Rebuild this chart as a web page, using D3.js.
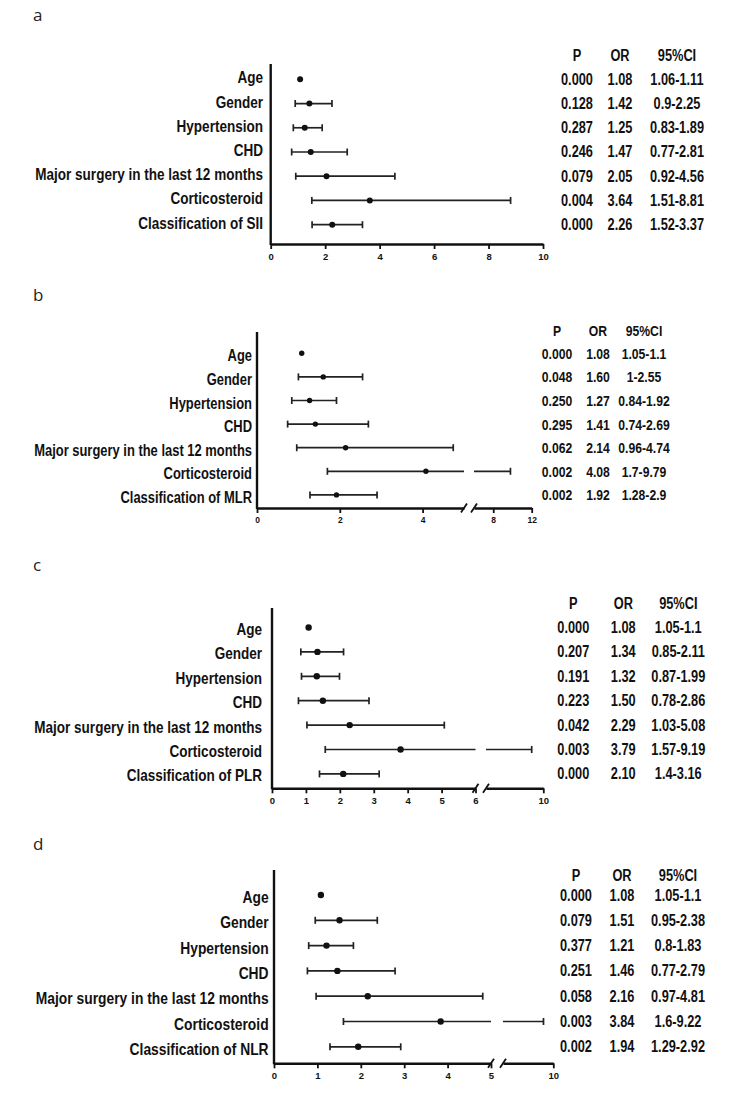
<!DOCTYPE html>
<html><head><meta charset="utf-8">
<script src="https://cdn.jsdelivr.net/npm/d3@7"></script>
<style>
body{margin:0;background:#fff;}
</style></head><body>
<svg id="c" width="744" height="1113"></svg>
<script>
// ---------- data ----------
const baseCategories = ["Age","Gender","Hypertension","CHD","Major surgery in the last 12 months","Corticosteroid"];
const indexNames = ["SII","MLR","PLR","NLR"];
const panelLetters = ["a","b","c","d"];
const tableHeaders = ["P","OR","95%CI"];

const pA  = ["0.000","0.128","0.287","0.246","0.079","0.004","0.000"];
const orA = [1.08,1.42,1.25,1.47,2.05,3.64,2.26];
const loA = [1.06,0.9,0.83,0.77,0.92,1.51,1.52];
const hiA = [1.11,2.25,1.89,2.81,4.56,8.81,3.37];

const pB  = ["0.000","0.048","0.250","0.295","0.062","0.002","0.002"];
const orB = [1.08,1.60,1.27,1.41,2.14,4.08,1.92];
const loB = [1.05,1,0.84,0.74,0.96,1.7,1.28];
const hiB = [1.1,2.55,1.92,2.69,4.74,9.79,2.9];

const pC  = ["0.000","0.207","0.191","0.223","0.042","0.003","0.000"];
const orC = [1.08,1.34,1.32,1.50,2.29,3.79,2.10];
const loC = [1.05,0.85,0.87,0.78,1.03,1.57,1.4];
const hiC = [1.1,2.11,1.99,2.86,5.08,9.19,3.16];

const pD  = ["0.000","0.079","0.377","0.251","0.058","0.003","0.002"];
const orD = [1.08,1.51,1.21,1.46,2.16,3.84,1.94];
const loD = [1.05,0.95,0.8,0.77,0.97,1.6,1.29];
const hiD = [1.1,2.38,1.83,2.79,4.81,9.22,2.92];

const domainsA = [[0,10]];
const domainsB = [[0,5],[6,12]];
const domainsC = [[0,6],[6,10]];
const domainsD = [[0,5],[6,10]];
const ticksA = [[0,2,4,6,8,10]];
const ticksB = [[0,2,4],[8,12]];
const ticksC = [[0,1,2,3,4,5,6],[10]];
const ticksD = [[0,1,2,3,4,5],[10]];

// ---------- layout ----------
const FONT = '"Liberation Sans",Arial,sans-serif';
const SQUEEZE = 0.8;   // condensed look (Arial Narrow style)
const layouts = [
  {letterY:21, headerY:55, row0:79.3, rowStep:24.23, axisTop:64, axisY:244, ranges:[[270.7,543]],
   labelRight:263, labelWidth:228, labelDy:-1.5, cols:[577,620,677], pWidth:32, dotR:3, tickFs:9.5},
  {letterY:301, headerY:330, row0:353.3, rowStep:23.6, axisTop:332, axisY:508, ranges:[[257,464],[474,531.7]],
   labelRight:252, labelWidth:218, labelDy:2, cols:[557,598,644], pWidth:30.5, dotR:2.7, tickFs:8.5},
  {letterY:571, headerY:603, row0:627.5, rowStep:24.4, axisTop:608, axisY:788.3, ranges:[[272,475.5],[486,543.3]],
   labelRight:262, labelWidth:228, labelDy:2, cols:[573.3,623.3,678.3], pWidth:32, dotR:3.2, tickFs:9.5},
  {letterY:850, headerY:875, row0:895, rowStep:25.3, axisTop:870, axisY:1063.3, ranges:[[274,491],[503,553.3]],
   labelRight:268.6, labelWidth:233, labelDy:2, cols:[576,622,678], pWidth:32, dotR:3.2, tickFs:9.5}
];

const panels = [
  {p:pA, or:orA, lo:loA, hi:hiA, domains:domainsA, ticks:ticksA},
  {p:pB, or:orB, lo:loB, hi:hiB, domains:domainsB, ticks:ticksB},
  {p:pC, or:orC, lo:loC, hi:hiC, domains:domainsC, ticks:ticksC},
  {p:pD, or:orD, lo:loD, hi:hiD, domains:domainsD, ticks:ticksD}
];

const svg = d3.select("#c");
const INK = "#111";

function natWidth(g, str, fs){
  const t = g.append("text").style("font-family",FONT).style("font-weight","bold").style("font-size",fs+"px").text(str);
  const w = t.node().getComputedTextLength(); t.remove();
  return w;
}
function squeeze(sel){
  sel.each(function(){
    const w = this.getComputedTextLength();
    d3.select(this).attr("textLength", w*SQUEEZE).attr("lengthAdjust","spacingAndGlyphs");
  });
}

panels.forEach((P,pi) => {
  const L = layouts[pi];
  const cats = baseCategories.concat(["Classification of " + indexNames[pi]]);
  const g = svg.append("g");
  const y = d3.scalePoint().domain(cats).range([L.row0, L.row0 + L.rowStep*(cats.length-1)]);
  const xs = P.domains.map((d,i) => d3.scaleLinear().domain(d).range(L.ranges[i]));
  const X = v => { for(let i=0;i<xs.length;i++){ const d=P.domains[i]; if(v<=d[1] || i===xs.length-1) return xs[i](v);} };

  // panel letter
  g.append("text").attr("x",33).attr("y",L.letterY).text(panelLetters[pi])
    .style("font-family",'"Open Sans","Liberation Sans",sans-serif').style("font-size","17px").attr("fill","#222");

  // row labels
  const labFs = 16 * L.labelWidth / (natWidth(g, cats[4], 16) * SQUEEZE);
  const labs = g.selectAll("text.lab").data(cats).join("text").attr("class","lab")
    .attr("x",L.labelRight).attr("y",d=>y(d)+L.labelDy)
    .attr("text-anchor","end").attr("dominant-baseline","central")
    .style("font-family",FONT).style("font-weight","bold").style("font-size",labFs+"px").attr("fill",INK)
    .text(d=>d);
  squeeze(labs);

  // y axis line
  const x0 = L.ranges[0][0];
  g.append("line").attr("x1",x0).attr("x2",x0).attr("y1",L.axisTop).attr("y2",L.axisY+1)
    .attr("stroke",INK).attr("stroke-width",2.4);

  // x axis segments
  xs.forEach((x,i) => {
    const ax = d3.axisBottom(x).tickValues(P.ticks[i]).tickSize(5).tickSizeOuter(0).tickFormat(d3.format("d"));
    const ga = g.append("g").attr("transform",`translate(0,${L.axisY})`).call(ax);
    ga.select(".domain").attr("stroke",INK).attr("stroke-width",2.4);
    ga.selectAll(".tick line").attr("stroke",INK).attr("stroke-width",1.8);
    ga.selectAll(".tick text").attr("y",9).attr("fill",INK)
      .style("font-family",FONT).style("font-weight","bold").style("font-size",L.tickFs+"px");
  });

  // break marks
  if (xs.length > 1) {
    [L.ranges[0][1], L.ranges[1][0]].forEach(xx => {
      g.append("line").attr("x1",xx-3).attr("y1",L.axisY+4.5).attr("x2",xx+3).attr("y2",L.axisY-4.5)
        .attr("stroke",INK).attr("stroke-width",1.8);
    });
  }

  // error bars
  const rows = cats.map((c,i)=>({c, or:P.or[i], lo:P.lo[i], hi:P.hi[i], p:P.p[i]}));
  rows.forEach(r => {
    const yy = y(r.c);
    P.domains.forEach((d,i) => {
      if (r.hi < d[0] || r.lo > d[1]) return;
      const a = Math.max(r.lo,d[0]), b = Math.min(r.hi,d[1]);
      g.append("line").attr("x1",xs[i](a)).attr("x2",xs[i](b)).attr("y1",yy).attr("y2",yy)
        .attr("stroke","#222").attr("stroke-width",1.7);
    });
    if (X(r.hi) - X(r.lo) > 2*L.dotR + 2) {
      [r.lo, r.hi].forEach(v => {
        g.append("line").attr("x1",X(v)).attr("x2",X(v)).attr("y1",yy-3.5).attr("y2",yy+3.5)
          .attr("stroke","#222").attr("stroke-width",1.7);
      });
    }
  });
  g.selectAll("circle.pt").data(rows).join("circle").attr("class","pt")
    .attr("cx",d=>X(d.or)).attr("cy",d=>y(d.c)).attr("r",L.dotR).attr("fill",INK);

  // table
  const tabFs = 16 * L.pWidth / (natWidth(g, "0.000", 16) * SQUEEZE);
  const tstyle = s => s.style("font-family",FONT).style("font-weight","bold").style("font-size",tabFs+"px")
    .attr("fill",INK).attr("text-anchor","middle").attr("dominant-baseline","central");
  tableHeaders.forEach((h,j) => squeeze(tstyle(g.append("text").attr("x",L.cols[j]).attr("y",L.headerY).text(h))));
  rows.forEach(r => {
    const vals = [r.p, r.or.toFixed(2), String(r.lo)+"-"+String(r.hi)];
    vals.forEach((v,j) => squeeze(tstyle(g.append("text").attr("x",L.cols[j]).attr("y",y(r.c)).text(v))));
  });
});
</script>
</body></html>
